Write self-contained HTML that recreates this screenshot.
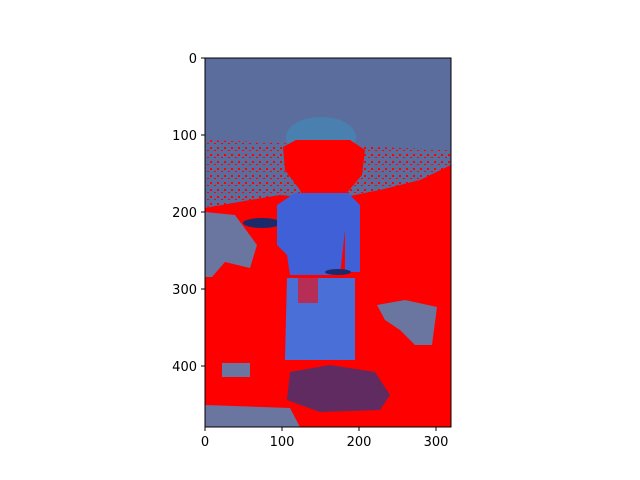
<!DOCTYPE html>
<html><head><meta charset="utf-8"><style>
body{margin:0;background:#fff}
svg{display:block;font-family:"DejaVu Sans","Liberation Sans",sans-serif}
</style></head><body>
<svg width="640" height="480" viewBox="0 0 640 480">
<defs>
<pattern id="spk" width="7" height="7" patternUnits="userSpaceOnUse"><rect x="0" y="0" width="2" height="2" fill="#f00"/><rect x="4" y="3" width="2" height="1" fill="#f00"/></pattern>
<clipPath id="cl"><rect x="205" y="58" width="246" height="369"/></clipPath>
</defs>
<g clip-path="url(#cl)">
<rect x="205" y="58" width="246" height="369" fill="#f00"/>
<polygon points="205,58 451,58 451,165 420,180 380,190 330,200 280,195 250,200 205,208" fill="#5b6d9c"/>
<polygon points="205,140 451,150 451,190 400,205 330,210 280,205 205,235" fill="url(#spk)"/>
<polygon points="205,212 235,215 257,245 250,268 225,262 212,277 205,277" fill="#6a75a0"/>
<rect x="258" y="226" width="8" height="44" fill="#f00"/>
<ellipse cx="262" cy="223" rx="19" ry="5" fill="#1a2a6a"/>
<ellipse cx="321" cy="137" rx="35" ry="20" fill="#4a80b0"/>
<polygon points="283,147 296,140 350,140 365,150 362,175 345,195 340,205 305,205 300,190 285,170" fill="#f00"/>
<polygon points="277,205 295,193 348,193 360,205 360,272 345,272 345,230 340,275 290,275 287,255 277,245" fill="#4060d8"/>
<polygon points="287,278 355,278 355,360 285,360" fill="#4a70d8"/>
<rect x="298" y="278" width="20" height="25" fill="#f00" opacity="0.6"/>
<ellipse cx="338" cy="272" rx="13" ry="3" fill="#1a2a6a"/>
<polygon points="377,305 405,300 437,307 432,345 415,345 400,330 385,320" fill="#6a75a0"/>
<polygon points="290,372 330,365 375,372 390,395 380,410 320,412 287,400" fill="#2a3a80" opacity="0.75"/>
<polygon points="205,405 290,408 300,427 205,427" fill="#6a75a0"/>
<rect x="222" y="363" width="28" height="14" fill="#6a75a0"/>
</g>
<rect x="205" y="58" width="246" height="369" fill="none" stroke="#000" stroke-width="1"/>
<g font-size="13" text-anchor="middle" fill="#000">
<line x1="205" y1="427" x2="205" y2="431" stroke="#000"/><text x="205" y="446">0</text>
<line x1="282" y1="427" x2="282" y2="431" stroke="#000"/><text x="282" y="446">100</text>
<line x1="359" y1="427" x2="359" y2="431" stroke="#000"/><text x="359" y="446">200</text>
<line x1="436" y1="427" x2="436" y2="431" stroke="#000"/><text x="436" y="446">300</text>
</g>
<g font-size="13" text-anchor="end" fill="#000">
<line x1="201" y1="58" x2="205" y2="58" stroke="#000"/><text x="197" y="63">0</text>
<line x1="201" y1="135" x2="205" y2="135" stroke="#000"/><text x="197" y="140">100</text>
<line x1="201" y1="212" x2="205" y2="212" stroke="#000"/><text x="197" y="217">200</text>
<line x1="201" y1="289" x2="205" y2="289" stroke="#000"/><text x="197" y="294">300</text>
<line x1="201" y1="366" x2="205" y2="366" stroke="#000"/><text x="197" y="371">400</text>
</g>
</svg>
</body></html>
